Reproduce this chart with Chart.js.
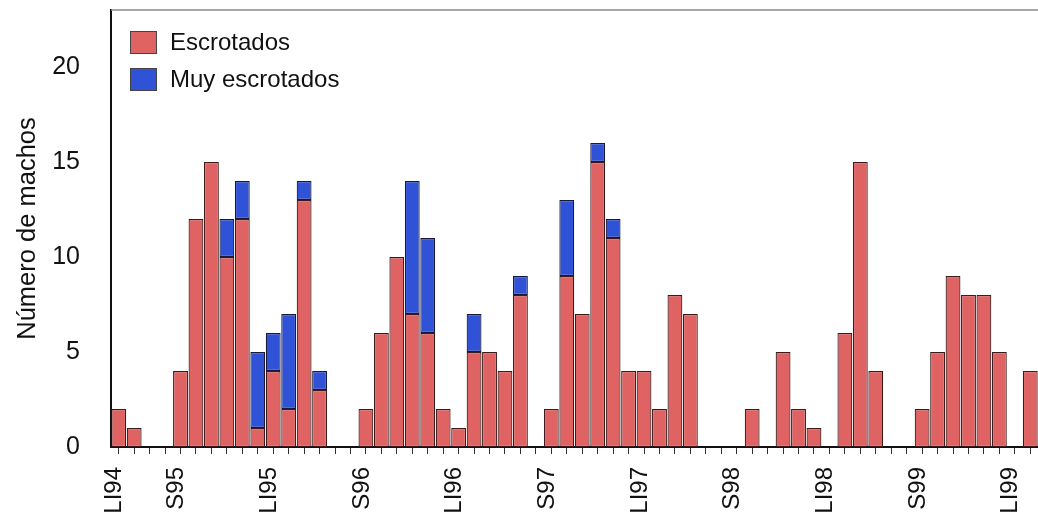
<!DOCTYPE html>
<html>
<head>
<meta charset="utf-8">
<script src="https://cdn.jsdelivr.net/npm/chart.js@4/dist/chart.umd.min.js"></script>
<style>
  html, body { margin: 0; padding: 0; background: #ffffff; overflow: hidden; }
  #wrap { position: relative; width: 1038px; height: 520px; }
</style>
</head>
<body>
<div id="wrap"><canvas id="c"></canvas></div>
<script>
// Sampling periods; only the start of each season is labelled on the axis.
const categories = [
  'LI94', '', '', '', 'S95', '', '', '', '', '',
  'LI95', '', '', '', '', '', 'S96', '', '', '',
  '', '', 'LI96', '', '', '', '', '', 'S97', '',
  '', '', '', '', 'LI97', '', '', '', '', '',
  'S98', '', '', '', '', '', 'LI98', '', '', '',
  '', '', 'S99', '', '', '', '', '', 'LI99', ''
];

// Number of scrotal males per sample
const escrotados = [
  2, 1, 0, 0, 4, 12, 15, 10, 12, 1,
  4, 2, 13, 3, 0, 0, 2, 6, 10, 7,
  6, 2, 1, 5, 5, 4, 8, 0, 2, 9,
  7, 15, 11, 4, 4, 2, 8, 7, 0, 0,
  0, 2, 0, 5, 2, 1, 0, 6, 15, 4,
  0, 0, 2, 5, 9, 8, 8, 5, 0, 4
];

// Number of strongly scrotal males per sample (stacked on top)
const muyEscrotados = [
  0, 0, 0, 0, 0, 0, 0, 2, 2, 4,
  2, 5, 1, 1, 0, 0, 0, 0, 0, 7,
  5, 0, 0, 2, 0, 0, 1, 0, 0, 4,
  0, 1, 1, 0, 0, 0, 0, 0, 0, 0,
  0, 0, 0, 0, 0, 0, 0, 0, 0, 0,
  0, 0, 0, 0, 0, 0, 0, 0, 0, 0
];

const seriesNames = ['Escrotados', 'Muy escrotados'];
const yMax = 23;
const yStep = 5;

const FONT = "'Liberation Sans', Arial, Helvetica, sans-serif";
const RED = '#e06363';
const BLUE = '#3052d6';

// Top frame line plus the legend box in the upper-left corner of the plot
const framePlugin = {
  id: 'frameAndLegend',
  afterDraw(chart) {
    const { ctx, chartArea } = chart;
    ctx.save();
    ctx.strokeStyle = '#8a8a8a';
    ctx.lineWidth = 1.5;
    ctx.beginPath();
    ctx.moveTo(chartArea.left, chartArea.top);
    ctx.lineTo(chartArea.right, chartArea.top);
    ctx.stroke();

    const x0 = chartArea.left + 19;
    let y0 = chartArea.top + 21;
    ctx.font = '24px ' + FONT;
    ctx.textBaseline = 'middle';
    ctx.textAlign = 'left';
    chart.data.datasets.forEach((ds) => {
      ctx.fillStyle = ds.backgroundColor;
      ctx.fillRect(x0, y0, 27, 23);
      ctx.strokeStyle = '#444';
      ctx.lineWidth = 1;
      ctx.strokeRect(x0 + 0.5, y0 + 0.5, 26, 22);
      ctx.fillStyle = '#111';
      ctx.fillText(ds.label, x0 + 40, y0 + 12);
      y0 += 37;
    });
    ctx.restore();
  }
};

new Chart(document.getElementById('c'), {
  type: 'bar',
  data: {
    labels: categories,
    datasets: [
      {
        label: seriesNames[0],
        data: escrotados,
        backgroundColor: RED,
        borderColor: '#3a1a1a',
        borderWidth: 1.2,
        borderSkipped: false,
        barPercentage: 0.96,
        categoryPercentage: 1.0
      },
      {
        label: seriesNames[1],
        data: muyEscrotados,
        backgroundColor: BLUE,
        borderColor: '#181838',
        borderWidth: 1.2,
        borderSkipped: false,
        barPercentage: 0.96,
        categoryPercentage: 1.0
      }
    ]
  },
  options: {
    responsive: true,
    maintainAspectRatio: false,
    animation: false,
    layout: { padding: { top: 10, right: 0, bottom: 0, left: 0 } },
    plugins: {
      legend: { display: false },
      tooltip: { enabled: false }
    },
    scales: {
      x: {
        stacked: true,
        offset: true,
        grid: {
          display: true,
          drawOnChartArea: false,
          drawTicks: true,
          tickLength: 7,
          offset: false,
          color: '#333'
        },
        border: { display: true, color: '#111', width: 2 },
        ticks: {
          autoSkip: false,
          maxRotation: 90,
          minRotation: 90,
          padding: 13,
          labelOffset: -4,
          color: '#111',
          font: { family: FONT, size: 24 }
        },
        afterFit(scale) {
          scale.height = 73;
          scale.paddingLeft = 0;
          scale.paddingRight = 0;
        }
      },
      y: {
        stacked: true,
        min: 0,
        max: yMax,
        grid: { display: false },
        border: { display: true, color: '#111', width: 2 },
        ticks: {
          stepSize: yStep,
          padding: 23,
          color: '#111',
          font: { family: FONT, size: 25 },
          callback: (v) => (v % yStep === 0 ? v : '')
        },
        title: {
          display: true,
          text: 'Número de machos',
          color: '#111',
          font: { family: FONT, size: 25.5 },
          padding: { top: 13, bottom: 0 }
        },
        afterFit(scale) {
          scale.width = 111;
          scale.paddingTop = 0;
          scale.paddingBottom = 0;
        }
      }
    }
  },
  plugins: [framePlugin]
});
</script>
</body>
</html>
